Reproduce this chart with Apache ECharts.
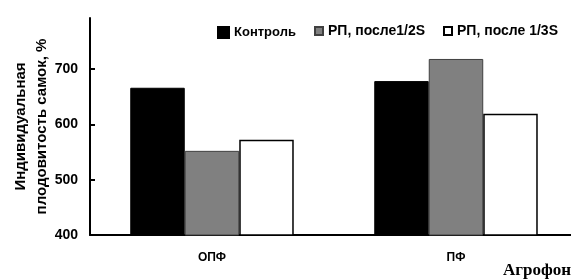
<!DOCTYPE html>
<html>
<head>
<meta charset="utf-8">
<script src="https://cdn.jsdelivr.net/npm/echarts@6/dist/echarts.min.js"></script>
<style>
  html, body { margin: 0; padding: 0; background: #fff; }
  #chart { width: 571px; height: 280px; }
</style>
</head>
<body>
<div id="chart"></div>
<script>
// агрофоны
const categories = ['ОПФ', 'ПФ'];
const seriesNames = ['Контроль', 'РП, после1/2S', 'РП, после 1/3S'];
const control = [666, 678];
const rpHalf = [552, 718];
const rpThird = [572, 619];

const font = 'Liberation Sans, Arial, sans-serif';

const chart = echarts.init(document.getElementById('chart'));

const legendText = size => ({ fontFamily: font, fontWeight: 'bold', fontSize: size, color: '#000' });

const option = {
  animation: false,
  grid: { left: 90, top: 18, width: 488, bottom: 45, containLabel: false, outerBoundsMode: 'none' },
  legend: [
    { data: [seriesNames[0]], left: 217, top: 26, itemWidth: 11, itemHeight: 11, textStyle: legendText(13) },
    { data: [seriesNames[1]], left: 314, top: 24, itemWidth: 8, itemHeight: 8, textStyle: legendText(14) },
    { data: [seriesNames[2]], left: 443, top: 24, itemWidth: 8, itemHeight: 8, textStyle: legendText(14) }
  ].map(l => Object.assign(l, { icon: 'rect', itemGap: 0, padding: 0 })),
  xAxis: {
    type: 'category',
    data: categories,
    axisLine: { lineStyle: { color: '#000', width: 2 } },
    axisTick: { inside: true, length: 5, lineStyle: { color: '#000', width: 2 } },
    axisLabel: { margin: 17, fontFamily: font, fontWeight: 'bold', fontSize: 12, color: '#000' },
    splitLine: { show: false }
  },
  yAxis: {
    type: 'value',
    min: 400,
    max: 792,
    interval: 100,
    name: 'Индивидуальная\nплодовитость самок, %',
    nameLocation: 'middle',
    nameGap: 38,
    nameMoveOverlap: false,
    nameTextStyle: { fontFamily: font, fontWeight: 'bold', fontSize: 15, color: '#000', lineHeight: 21 },
    axisLine: { show: true, lineStyle: { color: '#000', width: 2 } },
    axisTick: { show: true, inside: true, length: 5, lineStyle: { color: '#000', width: 2 } },
    axisLabel: { margin: 12, showMaxLabel: false, fontFamily: font, fontWeight: 'bold', fontSize: 14, color: '#000' },
    splitLine: { show: false }
  },
  series: [
    {
      name: seriesNames[0], type: 'bar', data: control,
      barGap: '0%', barCategoryGap: '33%',
      itemStyle: { color: '#000', borderColor: '#000', borderWidth: 1 }
    },
    {
      name: seriesNames[1], type: 'bar', data: rpHalf,
      itemStyle: { color: '#808080', borderColor: '#404040', borderWidth: 1 }
    },
    {
      name: seriesNames[2], type: 'bar', data: rpThird,
      itemStyle: { color: '#fff', borderColor: '#000', borderWidth: 1.5 }
    }
  ],
  graphic: [
    {
      type: 'text', right: 0, top: 262,
      style: { text: 'Агрофон', fontFamily: 'Liberation Serif, Times New Roman, serif', fontWeight: 'bold', fontSize: 17, fill: '#000' }
    }
  ]
};

chart.setOption(option);
</script>
</body>
</html>
